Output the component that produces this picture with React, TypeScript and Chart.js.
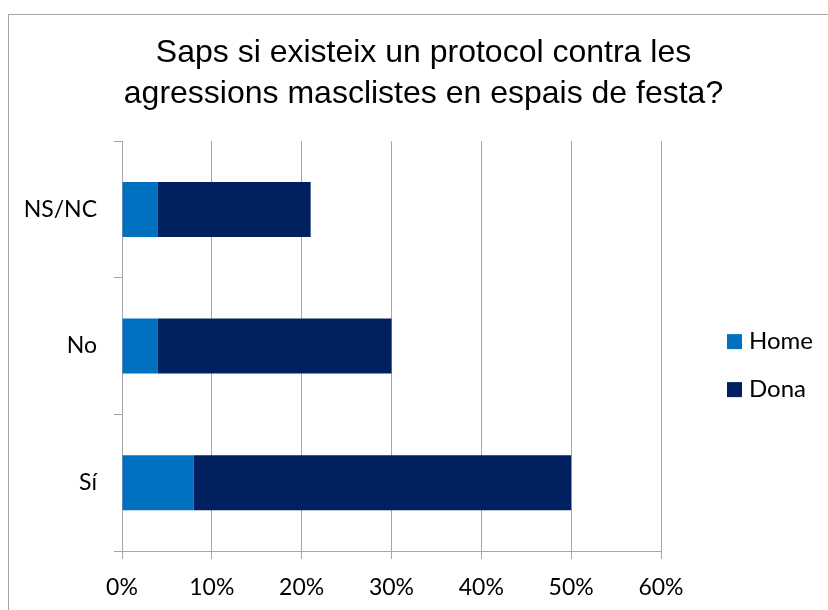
import React, { useEffect, useRef } from "react";
import { Chart, registerables } from "chart.js";

Chart.register(...registerables);

const TITLE_LINES = [
  "Saps si existeix un protocol contra les",
  "agressions masclistes en espais de festa?",
];
const CATEGORIES = ["NS/NC", "No", "Sí"];
const HOME = [4, 4, 8];
const DONA = [17, 26, 42];
const SERIES_NAMES = ["Home", "Dona"];
const SERIES_COLORS = ["#0070C0", "#002060"];
const X_MIN = 0;
const X_MAX = 60;
const X_STEP = 10;

const GRID = "#a6a6a6";
const LABEL_FONT = "Lato, 'Open Sans', sans-serif";

const legendPlugin = {
  id: "customLegend",
  afterDraw(chart: any) {
    const { ctx, chartArea } = chart;
    ctx.save();
    const x0 = chartArea.right + 66;
    const ys = [chartArea.top + 200.5, chartArea.top + 248.5];
    chart.data.datasets.forEach((ds: any, i: number) => {
      const cy = ys[i];
      ctx.fillStyle = ds.backgroundColor;
      ctx.fillRect(x0, cy - 7.5, 15, 15);
      ctx.fillStyle = "#000";
      ctx.font = `24px ${LABEL_FONT}`;
      ctx.textBaseline = "middle";
      ctx.textAlign = "left";
      ctx.fillText(ds.label, x0 + 22, cy);
    });
    ctx.restore();
  },
};

export default function App() {
  const ref = useRef<HTMLCanvasElement>(null);

  useEffect(() => {
    if (!ref.current) return;
    const chart = new Chart(ref.current, {
      type: "bar",
      data: {
        labels: CATEGORIES,
        datasets: [
          {
            label: SERIES_NAMES[0],
            data: HOME,
            backgroundColor: SERIES_COLORS[0],
            barPercentage: 0.402,
            categoryPercentage: 1,
          },
          {
            label: SERIES_NAMES[1],
            data: DONA,
            backgroundColor: SERIES_COLORS[1],
            barPercentage: 0.402,
            categoryPercentage: 1,
          },
        ],
      },
      options: {
        indexAxis: "y",
        responsive: false,
        animation: false,
        layout: { padding: { left: 19, right: 0, top: 0, bottom: 0 } },
        plugins: {
          legend: { display: false },
          tooltip: { enabled: false },
          title: {
            display: true,
            text: TITLE_LINES,
            color: "#000",
            font: {
              family: "'Liberation Sans', Arial, sans-serif",
              size: 32,
              weight: "normal",
              lineHeight: 1.272,
            },
            padding: { top: 32.7, bottom: 27 },
          },
        },
        scales: {
          x: {
            stacked: true,
            min: X_MIN,
            max: X_MAX,
            ticks: {
              stepSize: X_STEP,
              color: "#000",
              font: { family: LABEL_FONT, size: 23 },
              padding: 15,
              callback: (v: any) => `${v}%`,
              maxRotation: 0,
            },
            grid: { color: GRID, tickLength: 8, lineWidth: 1 },
            border: { display: true, color: GRID },
            afterFit: (s: any) => {
              s.height = 59;
            },
          },
          y: {
            stacked: true,
            ticks: {
              color: "#000",
              font: { family: LABEL_FONT, size: 23 },
              padding: 17,
            },
            grid: {
              color: GRID,
              drawOnChartArea: false,
              tickLength: 8,
              offset: true,
            },
            border: { display: true, color: GRID },
            afterFit: (s: any) => {
              s.width = 103;
            },
          },
          yR: {
            type: "linear",
            position: "right",
            display: true,
            grid: { display: false },
            ticks: { display: false },
            border: { display: false },
            afterFit: (s: any) => {
              s.width = 167;
            },
          },
        },
      },
      plugins: [legendPlugin],
    } as any);
    return () => chart.destroy();
  }, []);

  return (
    <div
      style={{
        position: "absolute",
        left: 0,
        top: 0,
        width: 828,
        height: 610,
        overflow: "hidden",
        background: "#fff",
      }}
    >
      <div
        style={{
          position: "absolute",
          left: 8,
          top: 14,
          width: 900,
          height: 700,
          borderTop: `1px solid ${GRID}`,
          borderLeft: `1px solid ${GRID}`,
        }}
      />
      <canvas
        ref={ref}
        width={828}
        height={610}
        style={{ position: "absolute", left: 0, top: 0, width: 828, height: 610 }}
      />
    </div>
  );
}
